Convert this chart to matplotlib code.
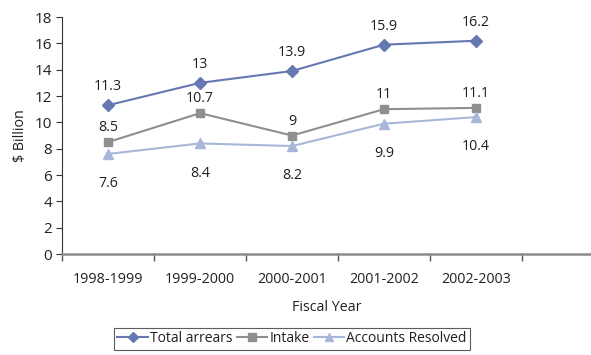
import matplotlib
matplotlib.use("Agg")
import matplotlib.pyplot as plt

plt.rcParams["font.family"] = ["Open Sans", "DejaVu Sans"]

years = ["1998-1999", "1999-2000", "2000-2001", "2001-2002", "2002-2003"]
total_arrears = [11.3, 13, 13.9, 15.9, 16.2]
intake = [8.5, 10.7, 9, 11, 11.1]
resolved = [7.6, 8.4, 8.2, 9.9, 10.4]
labels_total = ["11.3", "13", "13.9", "15.9", "16.2"]
labels_intake = ["8.5", "10.7", "9", "11", "11.1"]
labels_resolved = ["7.6", "8.4", "8.2", "9.9", "10.4"]

C_TOTAL = "#6678b1"
C_INTAKE = "#8e8f8f"
C_RESOLVED = "#a8b6da"
TXT = "#231f20"

fig = plt.figure(figsize=(5.91, 3.55), dpi=100)
ax = fig.add_axes([0.105, 0.2845, 0.895, 0.6675])

x = list(range(len(years)))
ax.plot(x, total_arrears, color=C_TOTAL, marker="D", ms=6, lw=1.5, label="Total arrears")
ax.plot(x, intake, color=C_INTAKE, marker="s", ms=6, lw=1.5, label="Intake")
ax.plot(x, resolved, color=C_RESOLVED, marker="^", ms=7, lw=1.5, label="Accounts Resolved")

fs = 10.3
for xi, v, t in zip(x, total_arrears, labels_total):
    ax.annotate(t, (xi, v), xytext=(0, 8), textcoords="offset points",
                ha="center", va="bottom", fontsize=fs, color=TXT)
for xi, v, t in zip(x, intake, labels_intake):
    ax.annotate(t, (xi, v), xytext=(0, 5), textcoords="offset points",
                ha="center", va="bottom", fontsize=fs, color=TXT)
for xi, v, t in zip(x, resolved, labels_resolved):
    ax.annotate(t, (xi, v), xytext=(0, -16), textcoords="offset points",
                ha="center", va="top", fontsize=fs, color=TXT)

ax.set_ylim(0, 18)
ax.set_yticks(range(0, 19, 2))
ax.set_xlim(-0.5, 5.25)
ax.set_xticks(x)
ax.set_xticklabels(years)
ax.set_xticks([i - 0.5 for i in range(len(years) + 1)], minor=True)
ax.tick_params(axis="x", which="major", length=0, pad=13, labelsize=fs, colors=TXT)
ax.tick_params(axis="x", which="minor", length=5, width=1, color="#555555")
ax.tick_params(axis="y", length=4, width=0.8, color="#333333", labelsize=fs + 0.7, labelcolor=TXT, pad=3)

for s in ("top", "right"):
    ax.spines[s].set_visible(False)
ax.spines["left"].set_color("#333333")
ax.spines["left"].set_linewidth(0.8)
ax.spines["bottom"].set_color("#8a8a8a")
ax.spines["bottom"].set_linewidth(1.8)

ax.set_xlabel("Fiscal Year", fontsize=fs, color=TXT, labelpad=9)
ax.set_ylabel("$ Billion", fontsize=fs, color=TXT, labelpad=5)

leg = fig.legend(loc="lower center", bbox_to_anchor=(0.494, -0.005), ncol=3,
                 fontsize=10, frameon=True, fancybox=False, edgecolor="#333333",
                 handlelength=2.2, handletextpad=0.15, columnspacing=0.3,
                 borderpad=0.25, labelcolor=TXT, markerscale=0.85)
leg.get_frame().set_linewidth(0.8)

fig.savefig("out.png", dpi=100)
